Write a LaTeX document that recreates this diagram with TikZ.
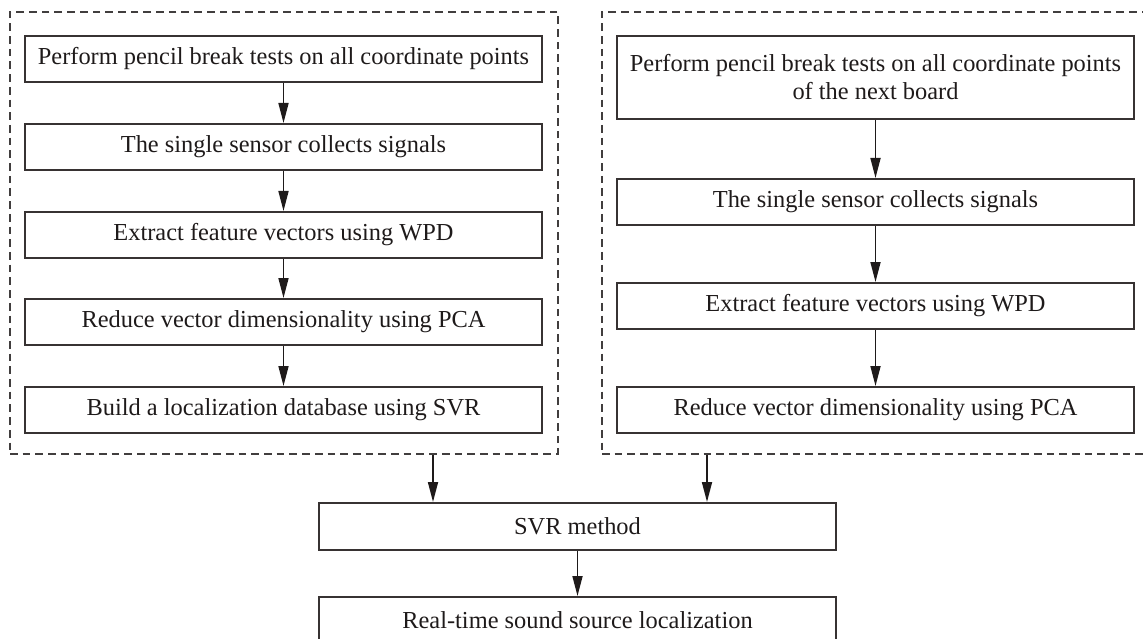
\documentclass[tikz,border=0pt]{standalone}
\usepackage{fontspec}
\setmainfont{Liberation Serif}
\usetikzlibrary{arrows.meta}
\definecolor{boxc}{RGB}{55,50,50}
\definecolor{txtc}{RGB}{30,26,26}
\definecolor{dashc}{RGB}{65,62,62}
\definecolor{arrc}{RGB}{30,26,26}
\begin{document}
\begin{tikzpicture}[x=1pt,y=-1pt,
  box/.style={draw=boxc, line width=2pt, minimum width=517pt, minimum height=46pt,
    inner sep=0pt, align=center, text=txtc, font=\fontsize{24.4}{28}\selectfont},
  grp/.style={draw=dashc, line width=1.9pt, dash pattern=on 7.7pt off 5pt, inner sep=0pt,
    minimum width=548pt, minimum height=442pt},
  arr/.style={draw=arrc, line width=1.7pt, -{Triangle[length=20pt,width=10pt]}}]
\useasboundingbox (0,0) rectangle (1143,639);
% groups
\node[grp] (lg) at (284,233) {};
\node[grp] (rg) at (876,233) {};
% left column
\node[box] (l1) at (283.5,59) {Perform pencil break tests on all coordinate points};
\node[box] (l2) at (283.5,147) {The single sensor collects signals};
\node[box] (l3) at (283.5,235) {Extract feature vectors using WPD};
\node[box] (l4) at (283.5,322) {Reduce vector dimensionality using PCA};
\node[box] (l5) at (283.5,410) {Build a localization database using SVR};
% right column
\node[box, minimum height=83pt] (r1) at (875.5,77.5) {Perform pencil break tests on all coordinate points\\of the next board};
\node[box] (r2) at (875.5,202) {The single sensor collects signals};
\node[box] (r3) at (875.5,306) {Extract feature vectors using WPD};
\node[box] (r4) at (875.5,410) {Reduce vector dimensionality using PCA};
% bottom
\node[box, minimum height=47pt] (svr) at (577.5,526.5) {SVR method};
\node[box, minimum height=47pt] (rt) at (577.5,620.5) {Real-time sound source localization};
% arrows
\draw[arr] (l1) -- (l2);
\draw[arr] (l2) -- (l3);
\draw[arr] (l3) -- (l4);
\draw[arr] (l4) -- (l5);
\draw[arr] (r1) -- (r2);
\draw[arr] (r2) -- (r3);
\draw[arr] (r3) -- (r4);
\coordinate (la) at (433,0);
\coordinate (ra) at (707,0);
\draw[arr] (lg.south -| la) -- (svr.north -| la);
\draw[arr] (rg.south -| ra) -- (svr.north -| ra);
\draw[arr] (svr) -- (rt);
\end{tikzpicture}
\end{document}
